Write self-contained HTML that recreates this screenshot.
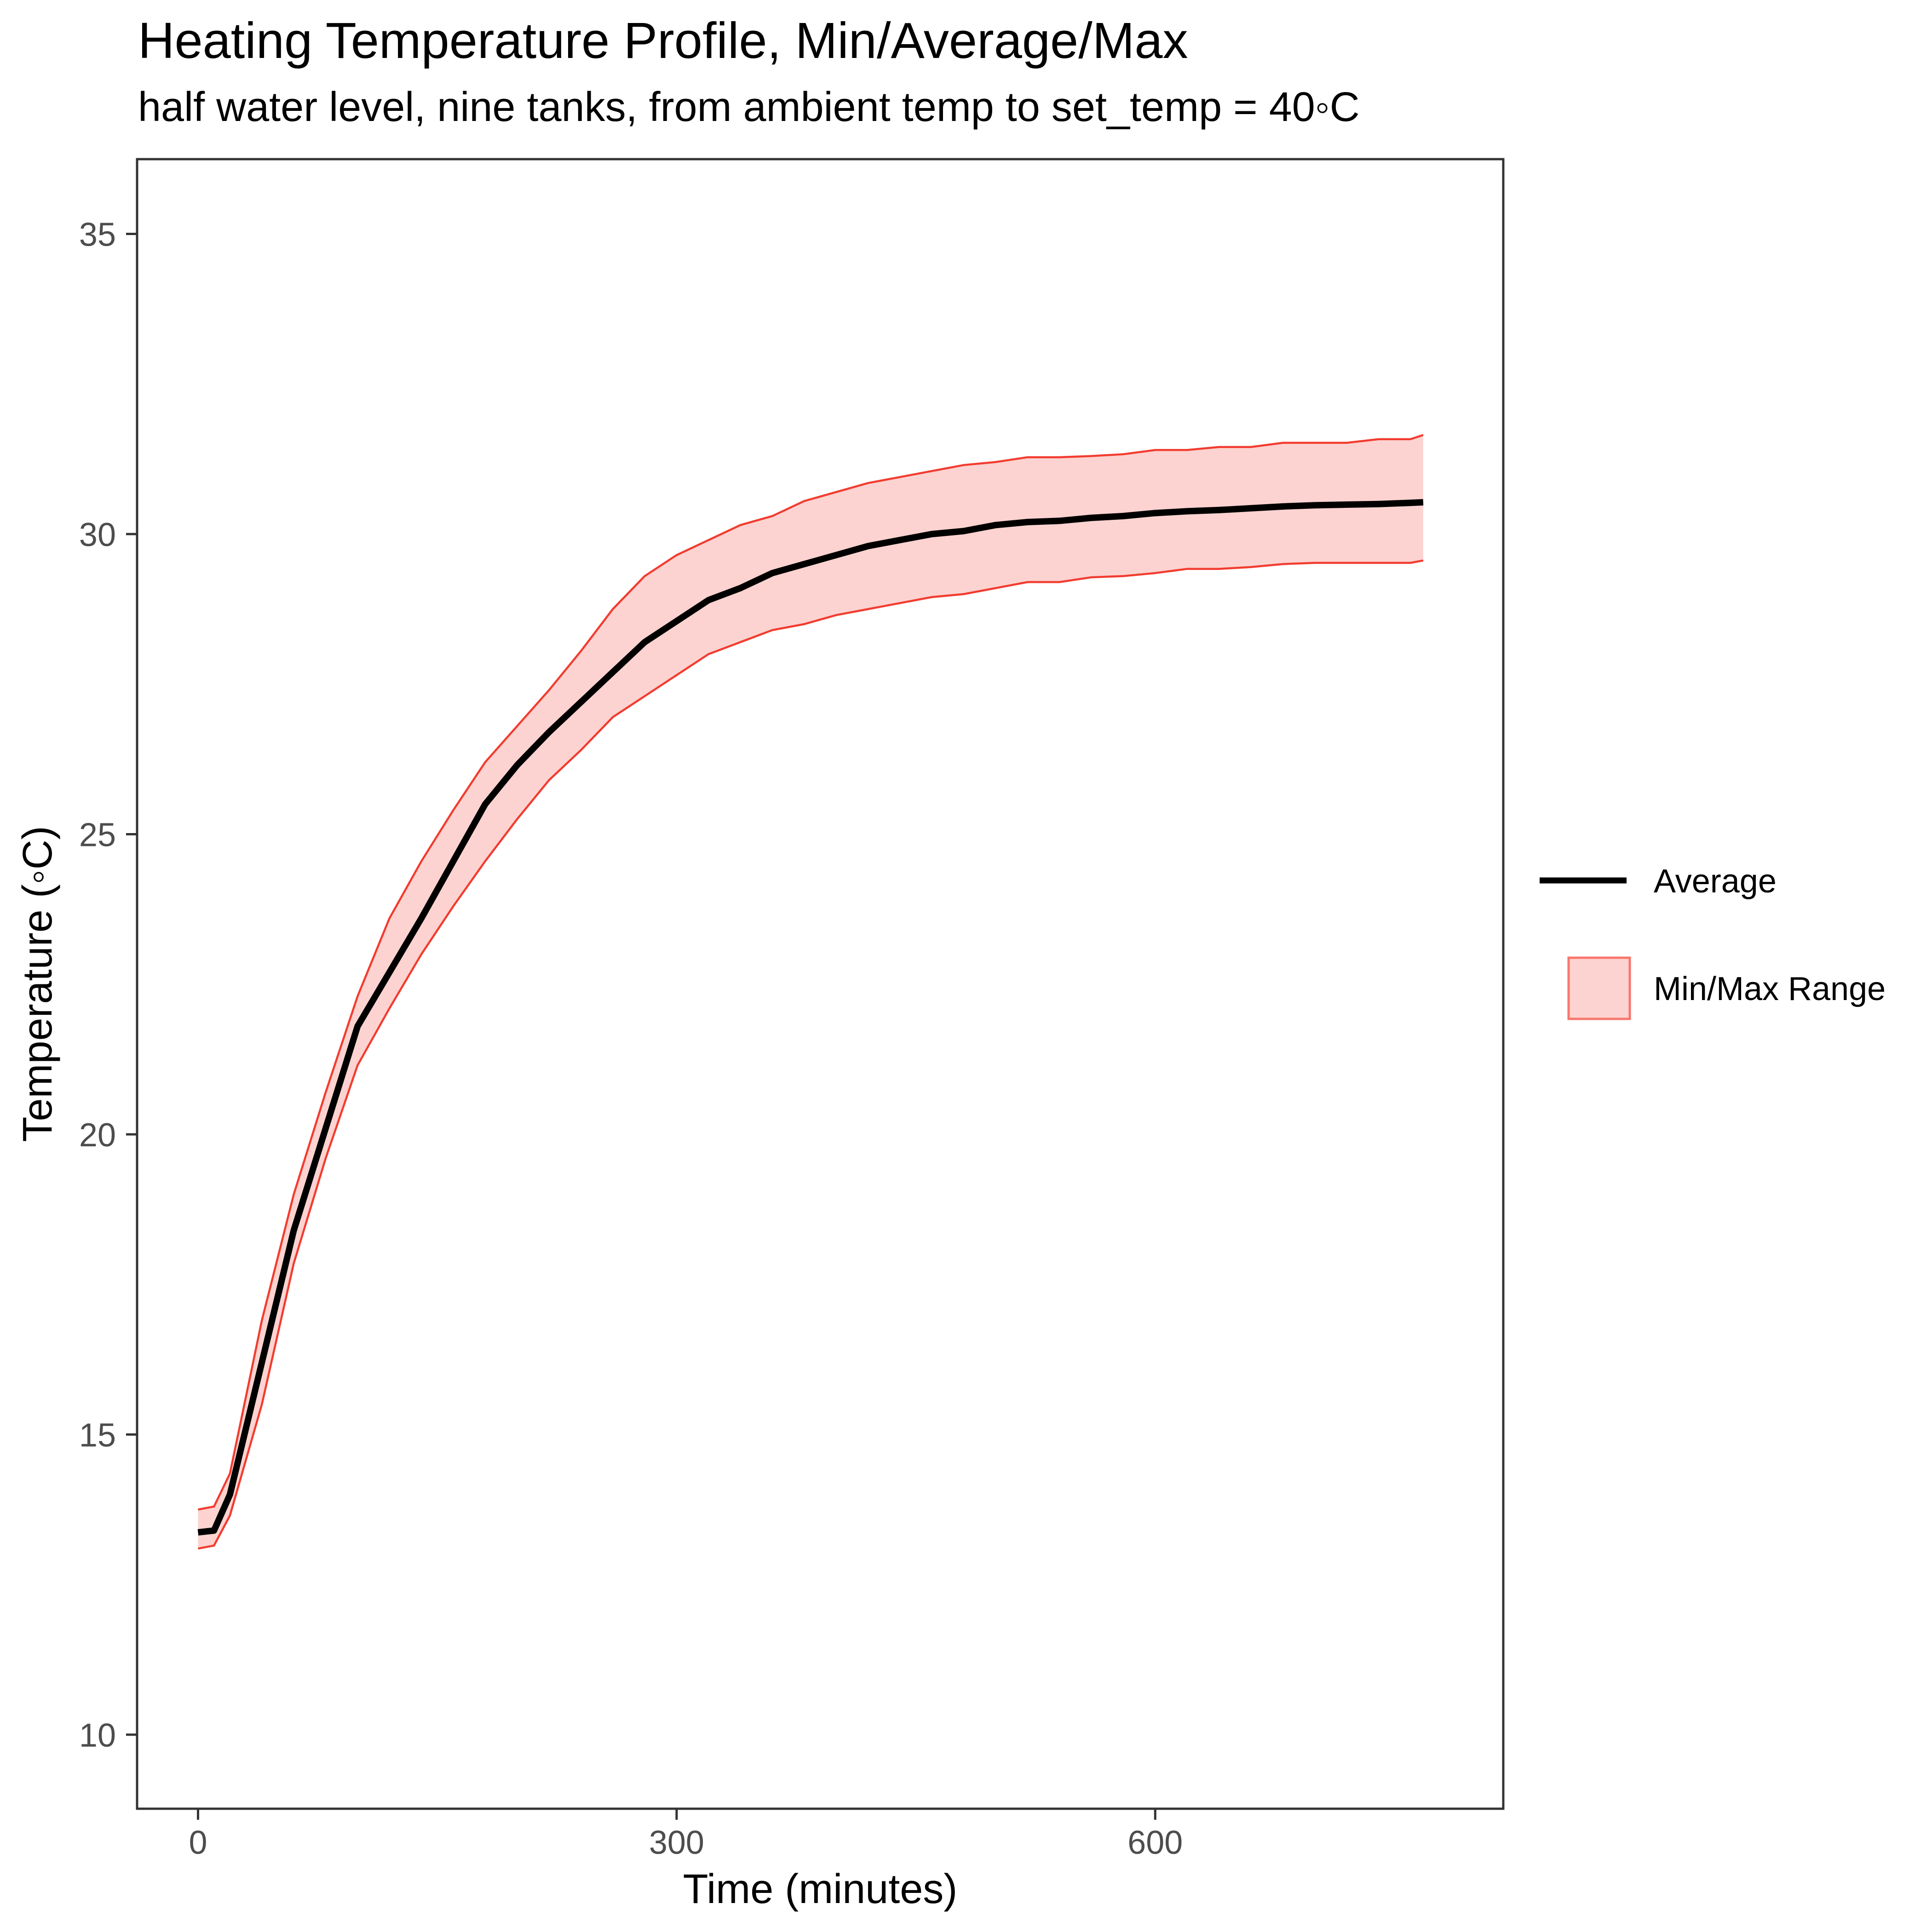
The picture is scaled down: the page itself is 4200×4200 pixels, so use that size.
<!DOCTYPE html>
<html><head><meta charset="utf-8"><style>
body{margin:0;background:#fff}
svg{display:block;font-family:"Liberation Sans",Arial,sans-serif}
</style></head><body>
<svg id="chart" width="4200" height="4200" viewBox="0 0 4200 4200">
<rect width="4200" height="4200" fill="#fff"/>
<text x="300" y="126" font-size="110" fill="#000">Heating Temperature Profile, Min/Average/Max</text>
<text x="300" y="263" font-size="90" fill="#000">half water level, nine tanks, from ambient temp to set_temp = 40◦C</text>
<g id="plot"></g>
<rect x="298" y="346" width="2970" height="3586" fill="none" stroke="#333" stroke-width="5"/>
<text x="1783" y="4137" font-size="90" text-anchor="middle" fill="#000">Time (minutes)</text>
<text transform="translate(112,2139) rotate(-90)" font-size="90" text-anchor="middle" fill="#000">Temperature (◦C)</text>
<g>
<line x1="3347" y1="1914" x2="3536" y2="1914" stroke="#000" stroke-width="13"/>
<text x="3595" y="1940" font-size="72" fill="#000">Average</text>
<rect x="3410" y="2082" width="133" height="133" fill="#fcd3d0" stroke="#f8766d" stroke-width="5"/>
<text x="3595" y="2174" font-size="72" fill="#000">Min/Max Range</text>
</g>
</svg>
<script>
const times=[0,10,20,40,60,80,100,120,140,160,180,200,220,240,260,280,300,320,340,360,380,400,420,440,460,480,500,520,540,560,580,600,620,640,660,680,700,720,740,760,768];
const avgTemp=[13.37,13.4,14.0,16.2,18.4,20.1,21.8,22.7,23.6,24.55,25.5,26.15,26.7,27.2,27.7,28.2,28.55,28.9,29.1,29.35,29.5,29.65,29.8,29.9,30.0,30.05,30.15,30.2,30.22,30.27,30.3,30.35,30.38,30.4,30.43,30.46,30.48,30.49,30.5,30.52,30.53];
const maxTemp=[13.75,13.8,14.35,16.9,19.0,20.7,22.3,23.6,24.55,25.4,26.2,26.8,27.4,28.05,28.75,29.3,29.65,29.9,30.15,30.3,30.55,30.7,30.85,30.95,31.05,31.15,31.2,31.28,31.28,31.3,31.33,31.4,31.4,31.45,31.45,31.52,31.52,31.52,31.58,31.58,31.65];
const minTemp=[13.1,13.15,13.65,15.5,17.85,19.6,21.15,22.1,23.0,23.8,24.55,25.25,25.9,26.4,26.95,27.3,27.65,28.0,28.2,28.4,28.5,28.65,28.75,28.85,28.95,29.0,29.1,29.2,29.2,29.28,29.3,29.35,29.42,29.42,29.45,29.5,29.52,29.52,29.52,29.52,29.56];
const xTicks=[0,300,600];
const yTicks=[10,15,20,25,30,35];
const NS='http://www.w3.org/2000/svg';
function xs(t){return 430.5+t*3.468;}
function ys(v){return 3771-(v-10)*130.5;}
const g=document.getElementById('plot');
function mk(tag,attrs){const e=document.createElementNS(NS,tag);for(const k in attrs)e.setAttribute(k,attrs[k]);g.appendChild(e);return e;}
let d='';
times.forEach((t,i)=>{d+=(i?'L':'M')+xs(t)+','+ys(maxTemp[i]);});
for(let i=times.length-1;i>=0;i--)d+='L'+xs(times[i])+','+ys(minTemp[i]);
const rib=mk('path',{d:d+'Z',fill:'#fcd3d0',stroke:'none'});


function line(arr){return times.map((t,i)=>(i?'L':'M')+xs(t)+','+ys(arr[i])).join('');}
const mx=mk('path',{d:line(maxTemp),fill:'none',stroke:'#f23c30','stroke-width':4.5});


const mn=mk('path',{d:line(minTemp),fill:'none',stroke:'#f23c30','stroke-width':4.5});


const av=mk('path',{d:line(avgTemp),fill:'none',stroke:'#000','stroke-width':14,'stroke-linejoin':'round'});


xTicks.forEach(t=>{
  const tk=mk('line',{x1:xs(t),x2:xs(t),y1:3932,y2:3956,stroke:'#333','stroke-width':5});
  
  
  const lb=mk('text',{x:xs(t),y:4030,'font-size':72,fill:'#4d4d4d','text-anchor':'middle'});
  lb.textContent=t;
  
  
});
yTicks.forEach(v=>{
  const tk=mk('line',{x1:274,x2:298,y1:ys(v),y2:ys(v),stroke:'#333','stroke-width':5});
  
  
  const lb=mk('text',{x:252,y:ys(v)+26,'font-size':72,fill:'#4d4d4d','text-anchor':'end'});
  lb.textContent=v;
  
  
});
</script>
</body></html>
